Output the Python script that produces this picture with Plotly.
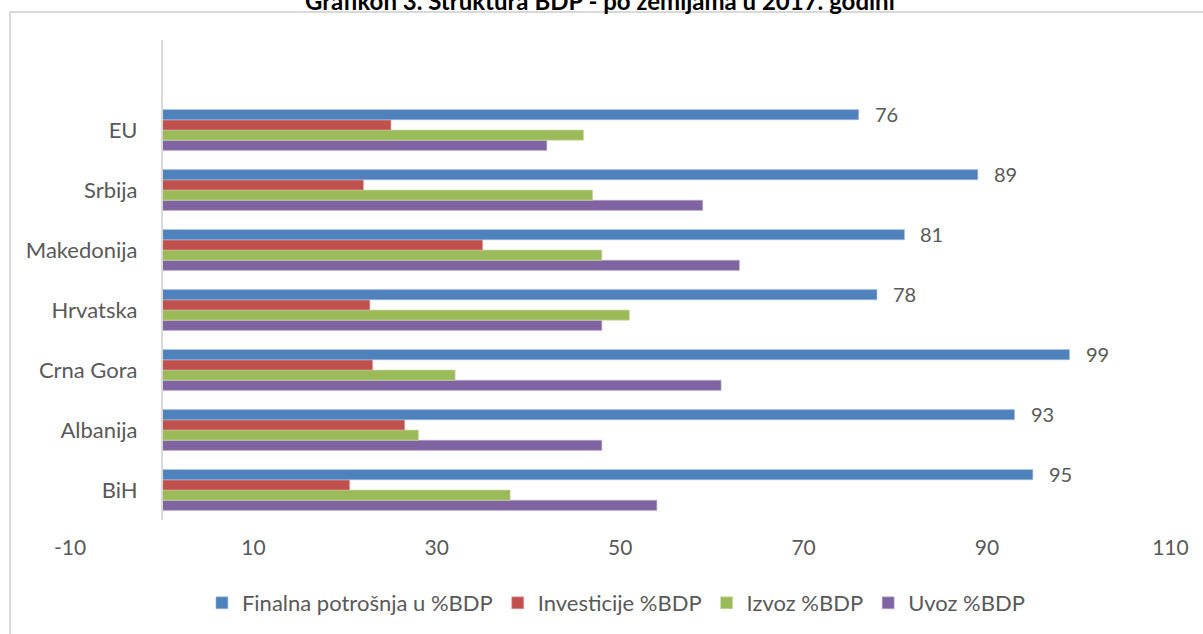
import plotly.graph_objects as go

# ---- data ----
categories = ["BiH", "Albanija", "Crna Gora", "Hrvatska", "Makedonija", "Srbija", "EU"]
finalna = [95, 93, 99, 78, 81, 89, 76]
investicije = [20.5, 26.5, 23, 22.7, 35, 22, 25]
izvoz = [38, 28, 32, 51, 48, 47, 46]
uvoz = [54, 48, 61, 48, 63, 59, 42]
series_names = ["Finalna potrošnja u %BDP", "Investicije %BDP", "Izvoz %BDP", "Uvoz %BDP"]
x_ticks = [-10, 10, 30, 50, 70, 90, 110]
x_tick_labels = ["-10", "10", "30", "50", "70", "90", "110"]
title_text = "Grafikon 3. Struktura BDP - po zemljama u 2017. godini"

# ---- style ----
colors = ["#4f81bd", "#c0504d", "#9bbb59", "#8064a2"]
edge_colors = ["#a7c0de", "#dfa8a6", "#cddcac", "#bfb1d0"]
FONT = "Lato"
TXT = "#595959"
W, H = 1203, 634
x_min, x_max = -10, 110
xdom = [70 / W, 1170.4 / W]
ydom = [1 - 520 / H, 1 - 40 / H]
yaxis_pos = xdom[0] + (0 - x_min) / (x_max - x_min) * (xdom[1] - xdom[0])

fig = go.Figure()
series_values = [finalna, investicije, izvoz, uvoz]
# add in reverse so the first series sits on top of each group
for name, vals, col, ecol in reversed(list(zip(series_names, series_values, colors, edge_colors))):
    fig.add_trace(go.Bar(
        y=categories, x=vals, name=name, orientation="h",
        marker=dict(color=col, line=dict(width=0.6, color=ecol)),
        hoverinfo="x+name",
    ))

annotations = []
for cat, v in zip(categories, finalna):
    annotations.append(dict(
        x=v, y=cat, xref="x", yref="y", text=str(v), showarrow=False,
        xanchor="left", yanchor="middle", xshift=14, yshift=16,
        font=dict(family=FONT, size=20, color=TXT),
    ))
annotations.append(dict(
    x=600 / W, y=1.0, xref="paper", yref="paper", text="<b>" + title_text + "</b>",
    showarrow=False, xanchor="center", yanchor="middle", yshift=0,
    font=dict(family=FONT, size=24, color="#000000"),
))

fig.update_layout(
    width=W, height=H,
    margin=dict(l=0, r=0, t=0, b=0, autoexpand=False),
    paper_bgcolor="white", plot_bgcolor="white",
    barmode="group", bargap=0.32, bargroupgap=0,
    font=dict(family=FONT, size=21, color=TXT),
    xaxis=dict(
        domain=xdom, range=[x_min, x_max], tickmode="array", tickvals=x_ticks,
        ticktext=x_tick_labels,
        showgrid=False, zeroline=False, showline=False, ticks="",
        ticklabelstandoff=13, tickfont=dict(family=FONT, size=21, color=TXT),
    ),
    yaxis=dict(
        domain=ydom, type="category", categoryorder="array", categoryarray=categories,
        range=[-0.5, 7.5], anchor="free", position=yaxis_pos,
        showgrid=False, zeroline=False, showline=True, linecolor="#d9d9d9", linewidth=1.5,
        ticks="", ticklabelstandoff=19, tickfont=dict(family=FONT, size=22, color=TXT),
    ),
    legend=dict(
        orientation="h", x=0.512, xanchor="center", y=1 - 603 / H, yanchor="middle",
        traceorder="reversed", font=dict(family=FONT, size=22, color=TXT),
        bgcolor="rgba(0,0,0,0)",
    ),
    annotations=annotations,
    shapes=[dict(
        type="rect", xref="paper", yref="paper",
        x0=10 / W, x1=1.01, y0=-0.01, y1=1 - 12 / H,
        line=dict(color="#d9d9d9", width=2), fillcolor="rgba(0,0,0,0)", layer="below",
    )],
)

fig.write_html("out.html", config={"displayModeBar": False},
               post_script="document.body.style.margin='0';")
